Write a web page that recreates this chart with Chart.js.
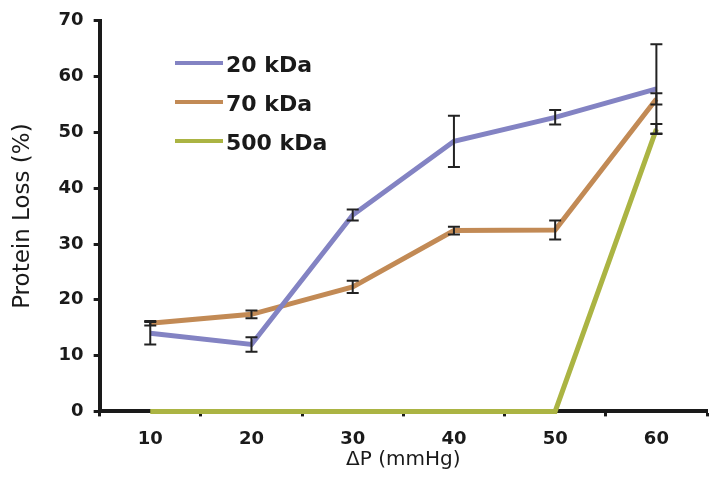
<!DOCTYPE html>
<html>
<head>
<meta charset="utf-8">
<script src="https://cdn.jsdelivr.net/npm/chart.js@4.4.1/dist/chart.umd.min.js"></script>
<style>
  html, body { margin: 0; padding: 0; background: #fff; }
</style>
</head>
<body>
<canvas id="lossChart" width="718" height="477"></canvas>
<script>
// pressure steps on the x axis
const pressures = ['10', '20', '30', '40', '50', '60'];
// protein loss (%) per membrane cut-off
const loss20 = [14.0, 12.0, 35.2, 48.4, 52.7, 57.8];
const loss70 = [15.8, 17.4, 22.3, 32.4, 32.5, 56.0];
const loss500 = [0, 0, 0, 0, 0, 50.6];
// error bar half-widths
const err20 = [2.0, 1.3, 1.0, 4.6, 1.3, 8.0];
const err70 = [0.4, 0.7, 1.1, 0.7, 1.7, 1.0];
const err500 = [0, 0, 0, 0, 0, 0.9];
const seriesLabels = ['20 kDa', '70 kDa', '500 kDa'];
const yTicks = [0, 10, 20, 30, 40, 50, 60, 70];

const colors = ['#8383c3', '#c28a55', '#abb443'];

const errorBars = {
    id: 'errorBars',
    afterDatasetsDraw(chart) {
        const ctx = chart.ctx;
        const y = chart.scales.y;
        ctx.save();
        ctx.strokeStyle = '#222';
        ctx.lineWidth = 2;
        chart.data.datasets.forEach((ds, i) => {
            const meta = chart.getDatasetMeta(i);
            ds.errors.forEach((e, j) => {
                if (!e) return;
                const x = meta.data[j].x;
                const top = y.getPixelForValue(ds.data[j] + e);
                const bot = y.getPixelForValue(ds.data[j] - e);
                ctx.beginPath();
                ctx.moveTo(x, top); ctx.lineTo(x, bot);
                ctx.moveTo(x - 6, top); ctx.lineTo(x + 6, top);
                ctx.moveTo(x - 6, bot); ctx.lineTo(x + 6, bot);
                ctx.stroke();
            });
        });
        ctx.restore();
    }
};

const insideLegend = {
    id: 'insideLegend',
    afterDraw(chart) {
        const ctx = chart.ctx;
        ctx.save();
        ctx.font = 'bold 22px "DejaVu Sans"';
        ctx.textBaseline = 'middle';
        ctx.fillStyle = '#1a1a1a';
        chart.data.datasets.forEach((ds, i) => {
            const yy = 63 + i * 39;
            ctx.strokeStyle = ds.borderColor;
            ctx.lineWidth = 4;
            ctx.beginPath();
            ctx.moveTo(175, yy); ctx.lineTo(223, yy);
            ctx.stroke();
            ctx.fillText(ds.label, 226, yy + 3);
        });
        ctx.restore();
    }
};

const mkSet = (label, data, errors, color) => ({
    label: label, data: data, errors: errors,
    borderColor: color, backgroundColor: color,
    borderWidth: 5, pointRadius: 0, tension: 0, clip: false
});

new Chart(document.getElementById('lossChart'), {
    type: 'line',
    data: {
        labels: pressures,
        datasets: [
            mkSet(seriesLabels[0], loss20, err20, colors[0]),
            mkSet(seriesLabels[1], loss70, err70, colors[1]),
            mkSet(seriesLabels[2], loss500, err500, colors[2])
        ]
    },
    options: {
        responsive: false,
        animation: false,
        layout: { padding: { top: 8, right: 11, left: 9, bottom: 7 } },
        plugins: { legend: { display: false }, tooltip: { enabled: false } },
        scales: {
            x: {
                offset: true,
                grid: { display: true, offset: true, drawOnChartArea: false, tickLength: 5, tickWidth: 3, tickColor: '#1a1a1a' },
                border: { display: true, width: 4, color: '#1a1a1a' },
                ticks: { color: '#1a1a1a', padding: 12, font: { family: 'DejaVu Sans', size: 18, weight: 'bold' } },
                title: { display: true, text: '\u0394P (mmHg)', color: '#1a1a1a', padding: { top: -12, bottom: 0 },
                    font: { family: 'DejaVu Sans', size: 20, lineHeight: 1 } }
            },
            y: {
                min: 0, max: 70,
                afterBuildTicks: (axis) => { axis.ticks = yTicks.map(v => ({ value: v })); },
                grid: { display: true, drawOnChartArea: false, tickLength: 6, tickWidth: 3, tickColor: '#1a1a1a' },
                border: { display: true, width: 4, color: '#1a1a1a' },
                ticks: { color: '#1a1a1a', padding: 10, font: { family: 'DejaVu Sans', size: 18, weight: 'bold' } },
                title: { display: true, text: 'Protein Loss (%)', color: '#1a1a1a', padding: { top: 0, bottom: 12 },
                    font: { family: 'DejaVu Sans', size: 23 } }
            }
        }
    },
    plugins: [errorBars, insideLegend]
});
</script>
</body>
</html>
